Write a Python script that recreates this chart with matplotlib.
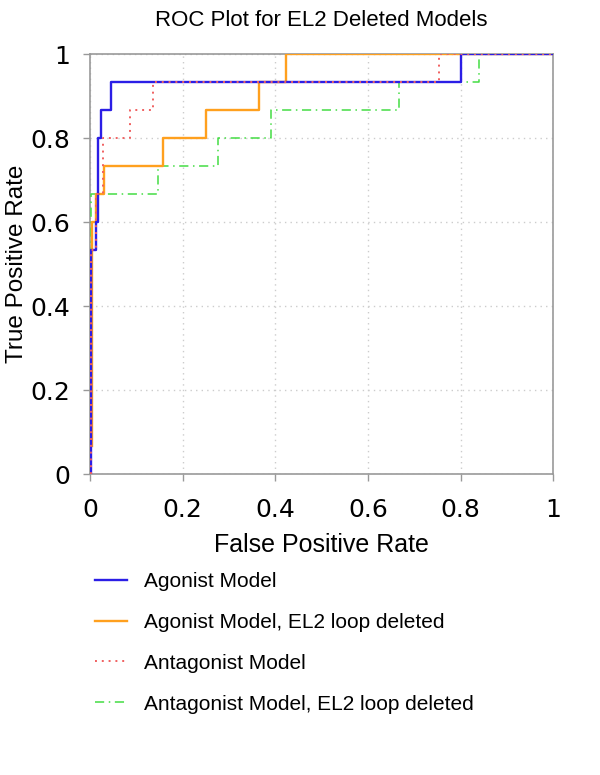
import numpy as np
import matplotlib
matplotlib.use("Agg")
import matplotlib.pyplot as plt

# ── ROC corner points (FPR, TPR) ─────────────────────────────────────────────
agonist_fpr = [0, 0.002, 0.002, 0.014, 0.014, 0.018, 0.018, 0.024, 0.024,
               0.045, 0.045, 0.800, 0.800, 1.0]
agonist_tpr = [0, 0, 0.533, 0.533, 0.600, 0.600, 0.800, 0.800, 0.867,
               0.867, 0.933, 0.933, 1.0, 1.0]

agonist_del_fpr = [0.004, 0.004, 0.012, 0.012, 0.031, 0.031, 0.158, 0.158,
                   0.251, 0.251, 0.365, 0.365, 0.423, 0.423, 1.0]
agonist_del_tpr = [0.067, 0.600, 0.600, 0.667, 0.667, 0.733, 0.733, 0.800,
                   0.800, 0.867, 0.867, 0.933, 0.933, 1.0, 1.0]

antagonist_fpr = [0.002, 0.002, 0.013, 0.013, 0.027, 0.027, 0.086, 0.086,
                  0.135, 0.135, 0.754, 0.754, 1.0]
antagonist_tpr = [0, 0.533, 0.533, 0.667, 0.667, 0.800, 0.800, 0.867,
                  0.867, 0.933, 0.933, 1.0, 1.0]

antagonist_del_fpr = [0, 0, 0.002, 0.002, 0.146, 0.146, 0.276, 0.276, 0.390,
                      0.390, 0.667, 0.667, 0.839, 0.839, 1.0]
antagonist_del_tpr = [0, 0.067, 0.067, 0.667, 0.667, 0.733, 0.733, 0.800,
                      0.800, 0.867, 0.867, 0.933, 0.933, 1.0, 1.0]

labels = ["Agonist Model",
          "Agonist Model, EL2 loop deleted",
          "Antagonist Model",
          "Antagonist Model, EL2 loop deleted"]

ticks = [0, 0.2, 0.4, 0.6, 0.8, 1]
tick_labels = ["0", "0.2", "0.4", "0.6", "0.8", "1"]

# ── Figure ───────────────────────────────────────────────────────────────────
fig = plt.figure(figsize=(6, 7.75), dpi=100)
ax = fig.add_axes([0.15, 0.388, 0.772, 0.542])

ax.plot(agonist_fpr, agonist_tpr, color="#2b1ee6", lw=1.7, label=labels[0], zorder=5)
ax.plot(agonist_del_fpr, agonist_del_tpr, color="#ffa01e", lw=1.7, label=labels[1], zorder=4)
ax.plot(antagonist_fpr, antagonist_tpr, color="#f06060", lw=1.4,
        linestyle=(0, (1, 2.5)), label=labels[2], zorder=6)
ax.plot(antagonist_del_fpr, antagonist_del_tpr, color="#44dd44", lw=1.1,
        linestyle=(0, (6, 3, 1, 3)), label=labels[3], zorder=3)

ax.set_xlim(0, 1)
ax.set_ylim(0, 1)
ax.set_xticks(ticks)
ax.set_yticks(ticks)
ax.set_xticklabels(tick_labels, family="DejaVu Sans", fontsize=18)
ax.set_yticklabels(tick_labels, family="DejaVu Sans", fontsize=18)
ax.tick_params(direction="out", length=5, width=1, color="#999999", pad=9)
ax.tick_params(axis="x", pad=12)
ax.grid(True, color="#cccccc", linestyle=(0, (1, 3)), linewidth=1)
for s in ax.spines.values():
    s.set_color("#999999")
    s.set_linewidth(1.2)

ax.set_title("ROC Plot for EL2 Deleted Models", family="Liberation Sans",
             fontsize=16, pad=20)
ax.set_xlabel("False Positive Rate", family="Liberation Sans", fontsize=18, labelpad=8)
ax.set_ylabel("True Positive Rate", family="Liberation Sans", fontsize=17.5, labelpad=2)

leg = fig.legend(loc="upper left", bbox_to_anchor=(0.158, 0.262),
                 frameon=False, prop={"family": "Liberation Sans", "size": 15},
                 handlelength=1.55, handletextpad=0.8, labelspacing=1.05,
                 borderpad=0, borderaxespad=0)

fig.savefig("out.png", dpi=100)
